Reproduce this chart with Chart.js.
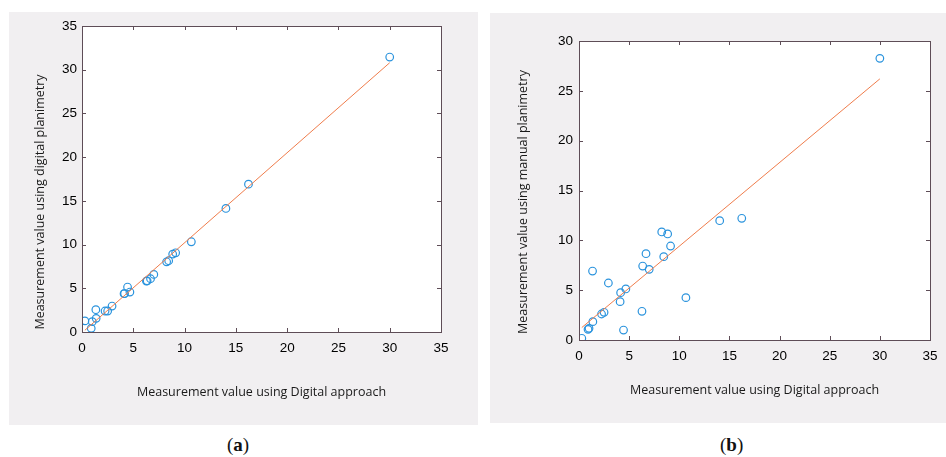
<!doctype html>
<html lang="en">
  <head>
    <meta charset="UTF-8" />
    <title>Digital approach vs planimetry</title>
    <script src="https://cdn.jsdelivr.net/npm/chart.js"></script>
    <style>
      body {
        margin: 0;
        width: 946px;
        height: 457px;
        background: #fff;
        position: relative;
        overflow: hidden;
      }

      .panel {
        position: absolute;
        background: #f1eff1;
      }

      #panelA { left: 9px; top: 12px; width: 469px; height: 413px; }
      #panelB { left: 490px; top: 13px; width: 456px; height: 410px; }

      .caption {
        position: absolute;
        top: 434px;
        font-family: "Liberation Serif", "DejaVu Serif", serif;
        font-size: 19px;
        color: #111;
      }

      .caption b { font-weight: bold; }
    </style>
  </head>
  <body>
    <div class="panel" id="panelA"><canvas id="chartA"></canvas></div>
    <div class="panel" id="panelB"><canvas id="chartB"></canvas></div>
    <div class="caption" style="left: 227px">(<b>a</b>)</div>
    <div class="caption" style="left: 720px">(<b>b</b>)</div>

    <script>
      // x values: measurement using the digital approach (same for both panels)
      const digitalX = [0.28, 0.9, 1.0, 1.35, 1.38, 2.25, 2.5, 2.93, 4.1, 4.15, 4.44, 4.67,
        6.28, 6.35, 6.68, 7.0, 8.25, 8.45, 8.84, 9.13, 10.66, 14.03, 16.23, 30.0];
      // (a) digital planimetry
      const digitalPlanY = [1.27, 0.42, 1.18, 2.55, 1.56, 2.4, 2.4, 2.97, 4.38, 4.4, 5.14, 4.57,
        5.83, 5.85, 6.09, 6.59, 8.03, 8.15, 8.91, 9.06, 10.32, 14.13, 16.91, 31.45];
      // (b) manual planimetry
      const manualPlanY = [0.17, 1.07, 1.17, 6.92, 1.84, 2.61, 2.78, 5.72, 3.85, 4.75, 1.0, 5.12,
        2.88, 7.42, 8.66, 7.09, 10.84, 8.36, 10.64, 9.43, 4.25, 11.97, 12.21, 28.26];

      // fitted lines (end points)
      const fitX = [0.28, 30.0];
      const fitYA = [0.2, 30.8];
      const fitYB = [1.25, 26.2];

      const xTicks = [0, 5, 10, 15, 20, 25, 30, 35];
      const yTicksA = [0, 5, 10, 15, 20, 25, 30, 35];
      const yTicksB = [0, 5, 10, 15, 20, 25, 30];

      const xTitle = 'Measurement value using Digital approach';
      const yTitleA = 'Measurement value using digital planimetry';
      const yTitleB = 'Measurement value using manual planimetry';

      const toPoints = (xs, ys) => xs.map((x, i) => ({ x: x, y: ys[i] }));

      // white plot area, box with inward ticks (matlab style), rotated y title
      const boxPlugin = {
        id: 'box',
        beforeDatasetsDraw(chart) {
          const a = chart.chartArea;
          chart.ctx.save();
          chart.ctx.fillStyle = '#fff';
          chart.ctx.fillRect(a.left, a.top, a.right - a.left, a.bottom - a.top);
          chart.ctx.restore();
        },
        afterDraw(chart) {
          const ctx = chart.ctx;
          const a = chart.chartArea;
          const xs = chart.scales.x;
          const ys = chart.scales.y;
          ctx.save();
          ctx.strokeStyle = '#5e4d57';
          ctx.lineWidth = 1;
          ctx.strokeRect(Math.round(a.left) + 0.5, Math.round(a.top) + 0.5,
            Math.round(a.right - a.left), Math.round(a.bottom - a.top));
          ctx.beginPath();
          xs.ticks.forEach(t => {
            const px = Math.round(xs.getPixelForValue(t.value)) + 0.5;
            ctx.moveTo(px, a.bottom); ctx.lineTo(px, a.bottom - 4);
            ctx.moveTo(px, a.top); ctx.lineTo(px, a.top + 4);
          });
          ys.ticks.forEach(t => {
            const py = Math.round(ys.getPixelForValue(t.value)) + 0.5;
            ctx.moveTo(a.left, py); ctx.lineTo(a.left + 4, py);
            ctx.moveTo(a.right, py); ctx.lineTo(a.right - 4, py);
          });
          ctx.stroke();

          const o = chart.options.plugins.box;
          ctx.translate(o.titleX, o.titleY);
          ctx.rotate(-Math.PI / 2);
          ctx.fillStyle = '#1a1a1a';
          ctx.font = '12.5px "Open Sans"';
          ctx.textAlign = 'center';
          ctx.textBaseline = 'middle';
          ctx.fillText(o.text, 0, 0);
          ctx.restore();
        },
      };

      function makeChart(id, ys, fitY, yTicks, yTitle, lay) {
        return new Chart(document.getElementById(id), {
          type: 'scatter',
          data: {
            datasets: [
              {
                type: 'line',
                data: toPoints(fitX, fitY),
                borderColor: '#f07d4c',
                borderWidth: 1,
                pointRadius: 0,
                fill: false,
              },
              {
                data: toPoints(digitalX, ys),
                pointStyle: 'circle',
                pointRadius: 3.8,
                pointBorderWidth: 1.2,
                pointBorderColor: '#2a93dd',
                pointBackgroundColor: 'rgba(0,0,0,0)',
              },
            ],
          },
          options: {
            responsive: true,
            maintainAspectRatio: false,
            animation: false,
            layout: { padding: { left: 0, top: lay.top, right: lay.right, bottom: 0 } },
            plugins: {
              legend: { display: false },
              tooltip: { enabled: false },
              box: { titleX: lay.titleX, titleY: lay.titleY, text: yTitle },
            },
            scales: {
              x: {
                type: 'linear',
                min: 0,
                max: 35,
                afterBuildTicks: s => { s.ticks = xTicks.map(v => ({ value: v })); },
                afterFit: s => { s.height = lay.xh; },
                grid: { display: false, drawTicks: false },
                border: { display: false },
                ticks: { padding: lay.xpad, color: '#000', font: { family: 'Liberation Sans', size: 13.5 } },
                title: {
                  display: true,
                  text: xTitle,
                  color: '#1a1a1a',
                  font: { family: 'Open Sans', size: 12.5 },
                  padding: { top: 0, bottom: lay.titlePad },
                },
              },
              y: {
                type: 'linear',
                min: 0,
                max: yTicks[yTicks.length - 1],
                afterBuildTicks: s => { s.ticks = yTicks.map(v => ({ value: v })); },
                afterFit: s => { s.width = lay.yw; },
                grid: { display: false, drawTicks: false },
                border: { display: false },
                ticks: { padding: lay.ypad, color: '#000', font: { family: 'Liberation Sans', size: 13.5 } },
              },
            },
          },
          plugins: [boxPlugin],
        });
      }

      makeChart('chartA', digitalPlanY, fitYA, yTicksA, yTitleA,
        { top: 14, right: 37, xh: 93, yw: 73, xpad: 8, ypad: 5, titlePad: 25, titleX: 31, titleY: 190 });
      makeChart('chartB', manualPlanY, fitYB, yTicksB, yTitleB,
        { top: 28, right: 16, xh: 83, yw: 89, xpad: 8, ypad: 6, titlePad: 25, titleX: 33, titleY: 189 });
    </script>
  </body>
</html>
